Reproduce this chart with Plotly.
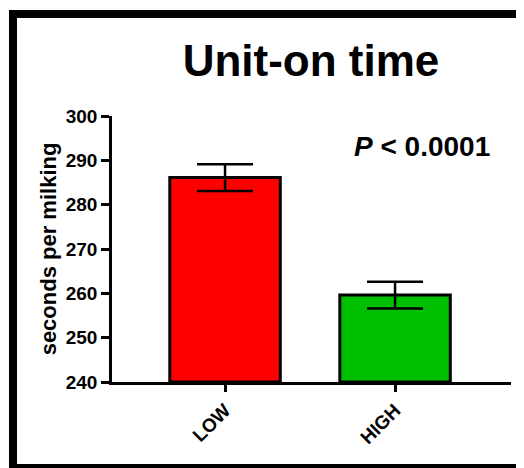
import plotly.graph_objects as go

categories = ["LOW", "HIGH"]
means = [286.1, 259.6]
errors = [3.0, 3.0]
bar_colors = ["#FF0000", "#00BF00"]
y_ticks = [240, 250, 260, 270, 280, 290, 300]

FONT = "Arial, Liberation Sans, Helvetica, sans-serif"

W, H = 516, 460
L, R, T, B = 104, 13, 108, 86
PW, PH = W - L - R, H - T - B

fig = go.Figure()
fig.add_trace(go.Bar(
    x=categories,
    y=[m - 240 for m in means],
    base=240,
    width=0.65,
    marker=dict(color=bar_colors, line=dict(color="black", width=3)),
    error_y=dict(type="data", array=errors, visible=True, color="black", thickness=2.5, width=28),
    showlegend=False,
))

fig.update_layout(
    width=W, height=H,
    margin=dict(l=L, r=R, t=T, b=B),
    paper_bgcolor="white", plot_bgcolor="white",
    font=dict(family=FONT, color="black"),
    title=dict(text="<b>Unit-on time</b>", font=dict(size=44, family=FONT, color="black"),
               x=303 / W, xanchor="center", y=1 - 53 / H, yanchor="middle"),
    xaxis=dict(
        range=[-0.665, 1.682],
        showline=True, linecolor="black", linewidth=2.5,
        ticks="outside", ticklen=7, tickwidth=2.5, tickcolor="black",
        tickangle=-45,
        tickfont=dict(size=19, family=FONT, color="black", weight="bold"),
        showgrid=False, zeroline=False,
    ),
    yaxis=dict(
        range=[240, 300],
        tickvals=y_ticks,
        showline=True, linecolor="black", linewidth=2.5,
        ticks="outside", ticklen=8, tickwidth=2.5, tickcolor="black",
        tickfont=dict(size=19, family=FONT, color="black", weight="bold"),
        showgrid=False, zeroline=False,
        title=dict(text="seconds per milking", font=dict(size=22, family=FONT, color="black", weight="bold"), standoff=4),
    ),
    annotations=[dict(
        text="<i>P</i> < 0.0001", xref="paper", yref="paper",
        x=(414 - L) / PW, y=(374 - 138) / PH, xanchor="center", yanchor="middle",
        showarrow=False, font=dict(size=28, family=FONT, color="black", weight="bold"),
    )],
    shapes=[dict(
        type="rect", xref="paper", yref="paper",
        x0=(5 - L) / PW, x1=(517 - L) / PW,
        y0=(374 - 460) / PH, y1=(374 - 6) / PH,
        line=dict(color="black", width=8), fillcolor="rgba(0,0,0,0)", layer="above",
    )],
)

fig.write_html("out.html")
